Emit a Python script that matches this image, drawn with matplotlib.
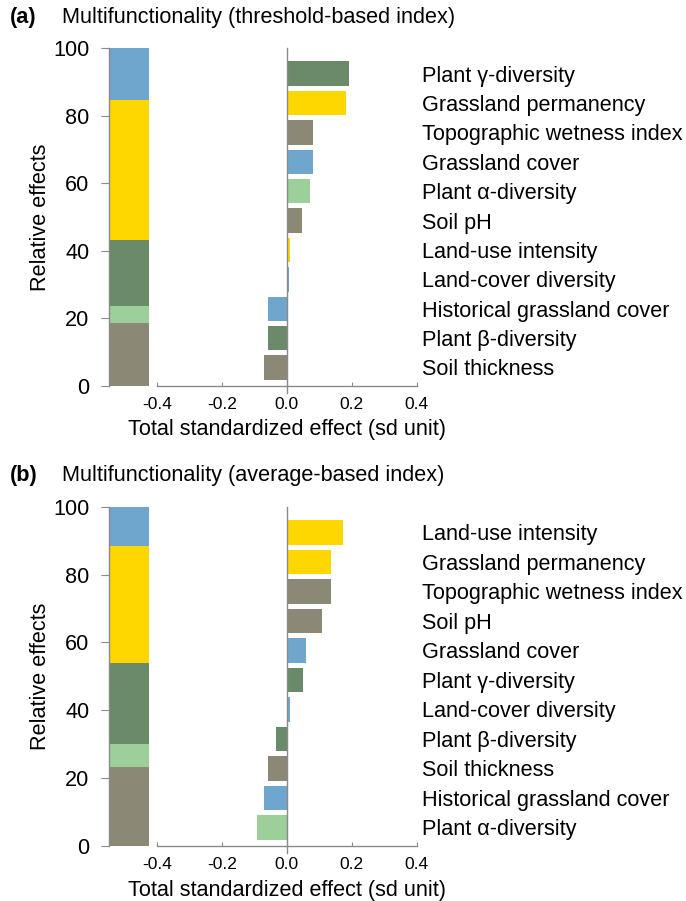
import matplotlib
matplotlib.use("Agg")
import matplotlib.pyplot as plt
import matplotlib.transforms as mtransforms

plt.rcParams['font.family'] = ['Liberation Sans', 'DejaVu Sans']

# colours by driver group
BLUE = '#6fa6cd'
YELLOW = '#ffd700'
DKGREEN = '#6a8a69'
LTGREEN = '#9ccf99'
GREY = '#8b8876'
AXC = '#8a8a8a'

# stacked "relative effects" bars, bottom to top
rel_colors = [GREY, LTGREEN, DKGREEN, YELLOW, BLUE]
rel_a = [18.5, 5.3, 19.4, 41.5, 15.3]
rel_b = [23.4, 6.7, 23.8, 34.6, 11.5]

# total standardized effects, top to bottom
names_a = ['Plant \u03b3-diversity', 'Grassland permanency', 'Topographic wetness index',
           'Grassland cover', 'Plant \u03b1-diversity', 'Soil pH', 'Land-use intensity',
           'Land-cover diversity', 'Historical grassland cover', 'Plant \u03b2-diversity',
           'Soil thickness']
eff_a = [0.193, 0.182, 0.082, 0.081, 0.071, 0.047, 0.009, 0.006, -0.057, -0.058, -0.070]
col_a = [DKGREEN, YELLOW, GREY, BLUE, LTGREEN, GREY, YELLOW, BLUE, BLUE, DKGREEN, GREY]

names_b = ['Land-use intensity', 'Grassland permanency', 'Topographic wetness index',
           'Soil pH', 'Grassland cover', 'Plant \u03b3-diversity', 'Land-cover diversity',
           'Plant \u03b2-diversity', 'Soil thickness', 'Historical grassland cover',
           'Plant \u03b1-diversity']
eff_b = [0.174, 0.135, 0.136, 0.109, 0.059, 0.051, 0.010, -0.033, -0.058, -0.069, -0.091]
col_b = [YELLOW, YELLOW, GREY, GREY, BLUE, DKGREEN, BLUE, DKGREEN, GREY, BLUE, LTGREEN]

xticks = [-0.4, -0.2, 0.0, 0.2, 0.4]

W, H = 686, 901
FS = 15.6
fig = plt.figure(figsize=(W / 100, H / 100), dpi=100)


def panel(bottom_px, height_px, rel, names, eff, cols, letter, title, title_y):
    ax = fig.add_axes([109 / W, bottom_px / H, 307.7 / W, height_px / H])
    ax.set_xlim(-0.547, 0.4)
    ax.set_ylim(0, 100)
    b = 0
    for v, c in zip(rel, rel_colors):
        ax.bar(-0.484, v, bottom=b, width=0.12, color=c, linewidth=0)
        b += v
    for s in ['top', 'right']:
        ax.spines[s].set_visible(False)
    for s in ['left', 'bottom']:
        ax.spines[s].set_color(AXC)
        ax.spines[s].set_linewidth(1)
    ax.spines['bottom'].set_bounds(-0.4, 0.4)
    ax.set_yticks([0, 20, 40, 60, 80, 100])
    ax.set_xticks(xticks)
    ax.set_xticklabels(['%.1f' % t for t in xticks])
    ax.tick_params(axis='y', direction='out', length=6, color=AXC, labelsize=FS, pad=8)
    ax.tick_params(axis='x', direction='in', length=3, color=AXC, labelsize=12.5, pad=8)
    ax.text(-0.224, 0.5, 'Relative effects', transform=ax.transAxes, rotation=90,
            ha='center', va='center', fontsize=FS)
    trans = mtransforms.blended_transform_factory(ax.transData, ax.transAxes)
    ax.text(0, -0.13, 'Total standardized effect (sd unit)', transform=trans,
            ha='center', va='center', fontsize=FS)

    axh = ax.twinx()
    axh.set_ylim(10.63, -0.87)
    pos = list(range(len(eff)))
    axh.barh(pos, eff, height=0.83, color=cols, linewidth=0)
    axh.axvline(0, ymin=-0.02, ymax=1, color=AXC, linewidth=1, clip_on=False)
    for s in axh.spines.values():
        s.set_visible(False)
    axh.set_yticks(pos)
    axh.set_yticklabels(names)
    axh.tick_params(axis='y', length=0, labelsize=FS, pad=4)

    fig.text(10 / W, 1 - title_y / H, letter, fontsize=FS, fontweight='bold', va='center')
    fig.text(62 / W, 1 - title_y / H, title, fontsize=FS, va='center')


panel(515, 338, rel_a, names_a, eff_a, col_a, '(a)',
      'Multifunctionality (threshold-based index)', 17)
panel(55, 339.3, rel_b, names_b, eff_b, col_b, '(b)',
      'Multifunctionality (average-based index)', 476)

fig.savefig('out.png', dpi=100)
